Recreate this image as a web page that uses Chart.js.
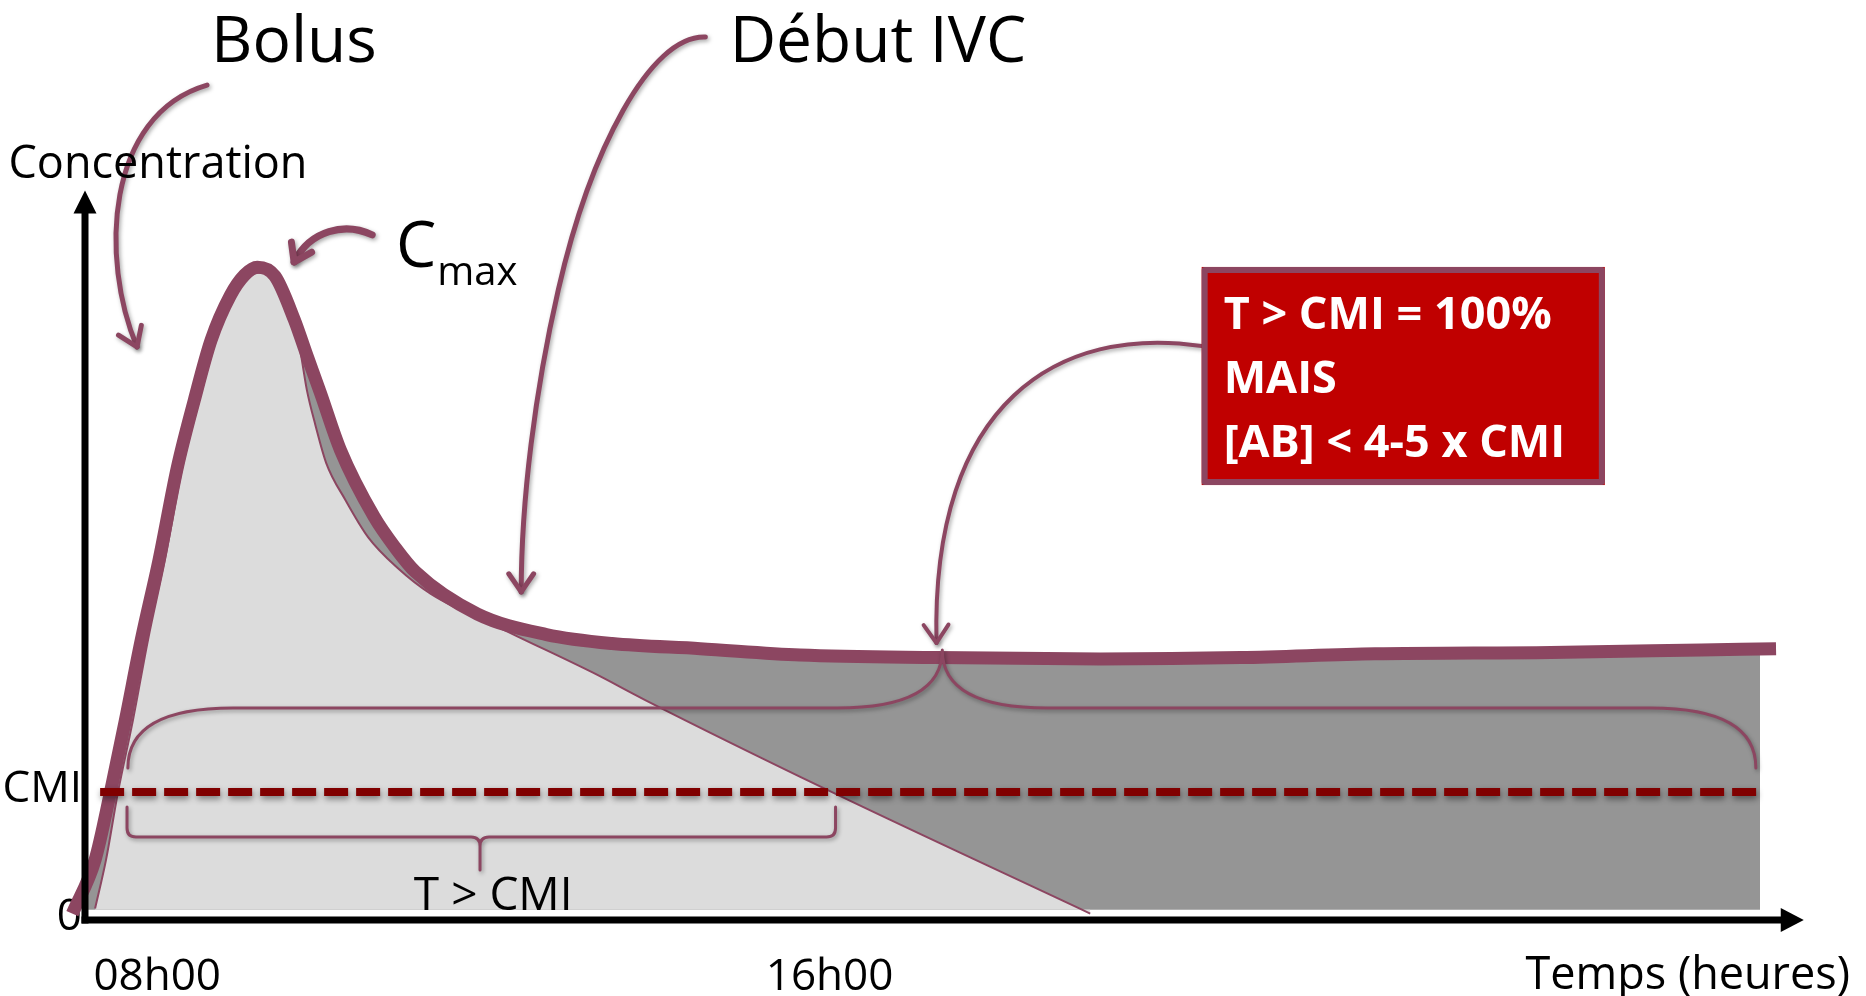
<!DOCTYPE html>
<html lang="fr">
<head>
<meta charset="utf-8">
<title>Bolus puis perfusion continue : concentration et CMI</title>
<script src="https://cdn.jsdelivr.net/npm/chart.js@4.4.1/dist/chart.umd.min.js"></script>
<style>
  html, body { margin: 0; padding: 0; background: #ffffff; }
  #wrap { width: 1866px; height: 996px; position: relative; }
</style>
</head>
<body>
<div id="wrap"><canvas id="chart" width="1866" height="996"></canvas></div>
<script>
// Time in hours, concentration expressed in multiples of the CMI.

// Combined concentration (bolus followed by continuous infusion)
const totalTime = [7.75, 8.02, 8.20, 8.38, 8.57, 8.78, 9.00, 9.20, 9.40, 9.63, 9.80, 9.95,
                   10.16, 10.39, 10.53, 10.70, 10.94, 11.34, 11.59, 11.83, 12.57, 13.39,
                   14.17, 15.22, 16.41, 18.03, 19.98, 21.65, 23.25, 25.34, 27.13, 28.02];
const totalConc = [0.05, 0.47, 0.99, 1.56, 2.19, 2.81, 3.54, 4.06, 4.53, 4.88, 5.04, 5.10,
                   5.03, 4.69, 4.43, 4.12, 3.67, 3.15, 2.91, 2.72, 2.39, 2.23,
                   2.16, 2.12, 2.07, 2.05, 2.04, 2.05, 2.08, 2.09, 2.11, 2.12];

// Shaded zone under the combined curve (ends with the infusion)
const zoneTime = [7.75, 8.02, 8.20, 8.38, 8.57, 8.78, 9.00, 9.20, 9.40, 9.63, 9.80, 9.95,
                  10.16, 10.39, 10.53, 10.70, 10.94, 11.34, 11.59, 11.83, 12.57, 13.39,
                  14.17, 15.22, 16.41, 18.03, 19.98, 21.65, 23.25, 25.34, 27.13, 27.83];
const zoneConc = [0.05, 0.47, 0.99, 1.56, 2.19, 2.81, 3.54, 4.06, 4.53, 4.88, 5.04, 5.10,
                  5.03, 4.69, 4.43, 4.12, 3.67, 3.15, 2.91, 2.72, 2.39, 2.23,
                  2.16, 2.12, 2.07, 2.05, 2.04, 2.05, 2.08, 2.09, 2.11, 2.12];

// Bolus alone
const bolusTime = [8.02, 8.15, 8.29, 8.47, 8.65, 8.85, 9.06, 9.26, 9.46, 9.67, 9.84, 10.02,
                   10.13, 10.26, 10.37, 10.46, 10.54, 10.64, 10.77, 11.00, 11.27, 11.62,
                   12.01, 13.00, 13.95, 14.56, 16.72, 19.86];
const bolusConc = [0.09, 0.47, 0.99, 1.56, 2.19, 2.81, 3.54, 4.06, 4.53, 4.86, 5.02, 5.06,
                   5.02, 4.88, 4.69, 4.45, 4.14, 3.87, 3.57, 3.28, 2.99, 2.75,
                   2.55, 2.23, 1.93, 1.72, 1.02, 0.05];

// CMI threshold
const cmiLevel = 1;
const cmiSpan = [8.08, 27.80];

// Axis ticks
const xTickValues = [8, 16];
const xTickLabels = ['08h00', '16h00'];
const yTickValues = [0, 1];
const yTickLabels = ['0', 'CMI'];

const MAROON = '#8C4661';
const DARK_RED = '#800000';
const BOX_RED = '#C00000';
const FONT = '"Open Sans", "Noto Sans", sans-serif';

const pts = (ts, cs) => ts.map((t, i) => ({ x: t, y: cs[i] }));

// Soft drop shadow for the CMI dashes
const dashShadow = {
  id: 'dashShadow',
  beforeDatasetDraw(chart, args) {
    if (chart.data.datasets[args.index].label !== 'CMI') return;
    const ctx = chart.ctx;
    ctx.save();
    ctx.shadowColor = 'rgba(0,0,0,0.45)';
    ctx.shadowBlur = 6;
    ctx.shadowOffsetX = 1;
    ctx.shadowOffsetY = 3;
  },
  afterDatasetDraw(chart, args) {
    if (chart.data.datasets[args.index].label !== 'CMI') return;
    chart.ctx.restore();
  }
};

// Arrows, braces, labels, callout box and axis arrows
const annotations = {
  id: 'annotations',
  afterDatasetsDraw(chart) {
    const { ctx, chartArea } = chart;
    const xs = chart.scales.x, ys = chart.scales.y;
    const X = t => xs.getPixelForValue(t);
    const Y = c => ys.getPixelForValue(c);
    const P = (t, c) => [X(t), Y(c)];

    const shadowOn = () => {
      ctx.shadowColor = 'rgba(0,0,0,0.35)';
      ctx.shadowBlur = 4;
      ctx.shadowOffsetX = 1.5;
      ctx.shadowOffsetY = 2;
    };
    const shadowOff = () => {
      ctx.shadowColor = 'rgba(0,0,0,0)';
      ctx.shadowBlur = 0;
      ctx.shadowOffsetX = 0;
      ctx.shadowOffsetY = 0;
    };

    const arrow = (path, lw, head) => {
      ctx.lineWidth = lw;
      ctx.beginPath();
      ctx.moveTo(path[0][0], path[0][1]);
      for (let i = 1; i + 2 < path.length; i += 3) {
        ctx.bezierCurveTo(path[i][0], path[i][1], path[i + 1][0], path[i + 1][1], path[i + 2][0], path[i + 2][1]);
      }
      ctx.stroke();
      const tip = path[path.length - 1], back = path[path.length - 2];
      const a = Math.atan2(tip[1] - back[1], tip[0] - back[0]);
      ctx.beginPath();
      ctx.moveTo(tip[0] - head * Math.cos(a - 0.6), tip[1] - head * Math.sin(a - 0.6));
      ctx.lineTo(tip[0], tip[1]);
      ctx.lineTo(tip[0] - head * Math.cos(a + 0.6), tip[1] - head * Math.sin(a + 0.6));
      ctx.stroke();
    };

    ctx.save();
    ctx.strokeStyle = MAROON;
    ctx.lineCap = 'round';
    ctx.lineJoin = 'round';
    shadowOn();

    // Brace over the bolus time above the CMI
    {
      const t0 = 8.40, t1 = 16.83, tm = 12.60;
      const yE = Y(0.883), yB = Y(0.648), yT = Y(0.391), r = 9;
      ctx.lineWidth = 3;
      ctx.beginPath();
      ctx.moveTo(X(t0), yE);
      ctx.lineTo(X(t0), yB - r);
      ctx.quadraticCurveTo(X(t0), yB, X(t0) + r, yB);
      ctx.lineTo(X(tm) - r, yB);
      ctx.quadraticCurveTo(X(tm), yB, X(tm), yB + r);
      ctx.lineTo(X(tm), yT);
      ctx.moveTo(X(tm), yB + r);
      ctx.quadraticCurveTo(X(tm), yB, X(tm) + r, yB);
      ctx.lineTo(X(t1) - r, yB);
      ctx.quadraticCurveTo(X(t1), yB, X(t1), yB - r);
      ctx.lineTo(X(t1), yE);
      ctx.stroke();
    }

    // Brace over the whole infusion time above the CMI
    {
      const t0 = 8.41, t1 = 27.78, tm = 18.10, run = 1.25;
      const yE = Y(1.188), yB = Y(1.656), yC = Y(2.109);
      ctx.lineWidth = 3;
      ctx.beginPath();
      ctx.moveTo(X(t0), yE);
      ctx.quadraticCurveTo(X(t0), yB, X(t0 + run), yB);
      ctx.lineTo(X(tm - run), yB);
      ctx.quadraticCurveTo(X(tm), yB, X(tm), yC);
      ctx.quadraticCurveTo(X(tm), yB, X(tm + run), yB);
      ctx.lineTo(X(t1 - run), yB);
      ctx.quadraticCurveTo(X(t1), yB, X(t1), yE);
      ctx.stroke();
    }

    // Bolus arrow
    arrow([P(9.352, 6.523), P(8.138, 6.289), P(8.079, 5.156), P(8.519, 4.477)], 5, 22);
    // Cmax arrow
    arrow([P(11.317, 5.352), P(10.995, 5.453), P(10.579, 5.391), P(10.388, 5.141)], 7, 20);
    // Début IVC arrow
    arrow([P(15.281, 6.898), P(14.626, 6.914), P(13.912, 6.016), P(13.531, 4.922),
           P(13.257, 4.141), P(13.090, 3.281), P(13.090, 2.563)], 5, 22);
    // Callout connector arrow
    arrow([P(21.186, 4.484), P(19.507, 4.648), P(17.960, 4.063), P(18.031, 2.164)], 4, 22);

    shadowOff();

    // Callout box
    {
      const x0 = X(21.186), y0 = Y(5.102), x1 = X(25.983), y1 = Y(3.398);
      ctx.fillStyle = BOX_RED;
      ctx.fillRect(x0, y0, x1 - x0, y1 - y0);
      ctx.lineWidth = 6;
      ctx.strokeStyle = MAROON;
      ctx.lineJoin = 'round';
      ctx.strokeRect(x0 + 3, y0 + 3, x1 - x0 - 6, y1 - y0 - 6);
      ctx.fillStyle = '#ffffff';
      ctx.font = `bold 45px ${FONT}`;
      ctx.textAlign = 'left';
      ctx.textBaseline = 'alphabetic';
      ctx.fillText('T > CMI = 100%', X(21.448), Y(4.617));
      ctx.fillText('MAIS', X(21.448), Y(4.117));
      ctx.fillText('[AB] < 4-5 x CMI', X(21.448), Y(3.617));
    }

    // Labels
    ctx.fillStyle = '#000000';
    ctx.textAlign = 'left';
    ctx.textBaseline = 'alphabetic';
    ctx.font = `64px ${FONT}`;
    ctx.fillText('Bolus', X(9.40), Y(6.703));
    ctx.fillText('Début IVC', X(15.57), Y(6.703));
    ctx.fillText('C', X(11.60), Y(5.102));
    ctx.font = `40px ${FONT}`;
    ctx.fillText('max', X(12.09), Y(4.961));
    ctx.font = `45px ${FONT}`;
    ctx.fillText('Concentration', X(6.99), Y(5.797));
    ctx.font = `46px ${FONT}`;
    ctx.textAlign = 'center';
    ctx.fillText('T > CMI', X(12.757), Y(0.078));

    // Axes with arrow heads
    ctx.fillStyle = '#000000';
    const ax = chartArea.left, ay = Y(0);
    const topTip = chartArea.top, rightTip = X(28.35);
    ctx.fillRect(ax - 3.5, topTip + 20, 7, ay - topTip - 16.5);
    ctx.beginPath();
    ctx.moveTo(ax, topTip);
    ctx.lineTo(ax - 11.5, topTip + 23);
    ctx.lineTo(ax + 11.5, topTip + 23);
    ctx.closePath();
    ctx.fill();
    ctx.fillRect(ax - 3.5, ay - 3.5, rightTip - ax - 18, 7);
    ctx.beginPath();
    ctx.moveTo(rightTip, ay);
    ctx.lineTo(rightTip - 23, ay - 12);
    ctx.lineTo(rightTip - 23, ay + 12);
    ctx.closePath();
    ctx.fill();

    ctx.restore();
  }
};

Chart.defaults.font.family = FONT;
Chart.defaults.color = '#000000';

new Chart(document.getElementById('chart'), {
  type: 'line',
  data: {
    datasets: [
      {
        label: 'CMI',
        data: pts(cmiSpan, cmiSpan.map(() => cmiLevel)),
        borderColor: DARK_RED,
        borderWidth: 8,
        borderDash: [24, 8],
        borderCapStyle: 'butt',
        pointRadius: 0,
        fill: false,
        order: 1
      },
      {
        label: 'Concentration totale',
        data: pts(totalTime, totalConc),
        borderColor: MAROON,
        borderWidth: 13,
        borderCapStyle: 'butt',
        cubicInterpolationMode: 'monotone',
        pointRadius: 0,
        fill: false,
        clip: false,
        order: 2
      },
      {
        label: 'Bolus',
        data: pts(bolusTime, bolusConc),
        borderColor: MAROON,
        borderWidth: 2,
        backgroundColor: '#DCDCDC',
        cubicInterpolationMode: 'monotone',
        pointRadius: 0,
        fill: { value: 0.08 },
        order: 3
      },
      {
        label: 'Zone IVC',
        data: pts(zoneTime, zoneConc),
        borderWidth: 0,
        borderColor: 'rgba(0,0,0,0)',
        backgroundColor: '#959595',
        cubicInterpolationMode: 'monotone',
        pointRadius: 0,
        fill: { value: 0.08 },
        order: 4
      }
    ]
  },
  options: {
    responsive: false,
    animation: false,
    events: [],
    devicePixelRatio: 1,
    layout: { padding: { top: 190.4, left: 0, right: 16, bottom: 0 } },
    plugins: {
      legend: { display: false },
      tooltip: { enabled: false },
      title: { display: false }
    },
    scales: {
      x: {
        type: 'linear',
        min: 7.9,
        max: 28.9,
        grid: { display: false, drawTicks: false },
        border: { display: false },
        afterFit: axis => { axis.height = 76; },
        afterBuildTicks: axis => { axis.ticks = xTickValues.map(v => ({ value: v })); },
        ticks: {
          align: 'start',
          padding: 31,
          maxRotation: 0,
          autoSkip: false,
          font: { size: 44 },
          color: '#000000',
          callback: (v, i) => xTickLabels[i]
        },
        title: {
          display: true,
          text: 'Temps (heures)',
          align: 'end',
          color: '#000000',
          font: { size: 45, lineHeight: 0.8 },
          padding: { top: 0, bottom: 2 }
        }
      },
      y: {
        type: 'linear',
        min: 0,
        max: 5.7,
        grid: { display: false, drawTicks: false },
        border: { display: false },
        afterFit: axis => { axis.width = 85; },
        afterBuildTicks: axis => { axis.ticks = yTickValues.map(v => ({ value: v })); },
        ticks: {
          padding: 3,
          labelOffset: -3,
          autoSkip: false,
          font: { size: 44 },
          color: '#000000',
          callback: (v, i) => yTickLabels[i]
        }
      }
    }
  },
  plugins: [dashShadow, annotations]
});
</script>
</body>
</html>
